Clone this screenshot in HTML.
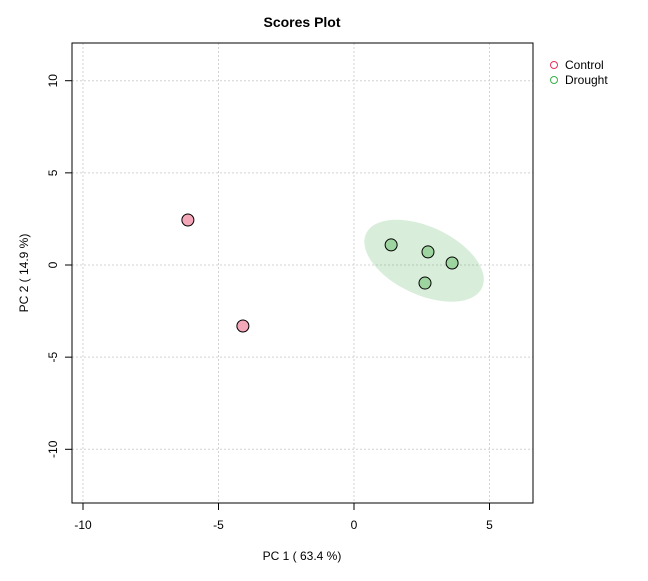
<!DOCTYPE html>
<html><head><meta charset="utf-8"><style>
body{margin:0;background:#fff;font-family:"Liberation Sans",sans-serif;}
svg text{font-family:"Liberation Sans",sans-serif;}
</style></head><body>
<svg id="chart" width="648" height="576" xmlns="http://www.w3.org/2000/svg">
<text x="302" y="27" text-anchor="middle" font-size="14" font-weight="bold">Scores Plot</text>
<g id="grid"></g>
<g id="ellipses"></g>
<g id="points"></g>
<rect x="72" y="43" width="461" height="460" fill="none" stroke="#000"/>
<g id="xaxis"></g>
<g id="yaxis"></g>
<text x="302" y="560" text-anchor="middle" font-size="12">PC 1 ( 63.4 %)</text>
<text transform="translate(28,273) rotate(-90)" text-anchor="middle" font-size="12">PC 2 ( 14.9 %)</text>
<g>
<g><circle cx="554" cy="65" r="3.5" fill="none" stroke="#E8305C"/><text x="565" y="69" font-size="12">Control</text></g>
<g><circle cx="554" cy="80" r="3.5" fill="none" stroke="#38B04A"/><text x="565" y="84" font-size="12">Drought</text></g>
</g>
</svg>
<script>
const xTicks=[-10,-5,0,5];
const yTicks=[-10,-5,0,5,10];
const controlX=[-6.13,-4.10];
const controlY=[2.44,-3.31];
const droughtX=[1.37,2.73,3.62,2.62];
const droughtY=[1.09,0.71,0.11,-0.98];
const NS="http://www.w3.org/2000/svg";
const sx=v=>354+v*27.1;
const sy=v=>265-v*18.43;
function mk(tag,attrs,parent){const e=document.createElementNS(NS,tag);for(const k in attrs)e.setAttribute(k,attrs[k]);parent.appendChild(e);return e;}
const grid=document.getElementById('grid'),xa=document.getElementById('xaxis'),ya=document.getElementById('yaxis');
xTicks.forEach(t=>{
 const l=mk('line',{x1:sx(t),x2:sx(t),y1:43,y2:503,stroke:'#d3d3d3','stroke-dasharray':'2,2'},grid);
 
 const k=mk('line',{x1:sx(t),x2:sx(t),y1:503,y2:510,stroke:'#000'},xa);
 
 const tx=mk('text',{x:sx(t),y:529,'text-anchor':'middle','font-size':12},xa);tx.textContent=t;
 
});
yTicks.forEach(t=>{
 const l=mk('line',{y1:sy(t),y2:sy(t),x1:72,x2:533,stroke:'#d3d3d3','stroke-dasharray':'2,2'},grid);
 
 const k=mk('line',{y1:sy(t),y2:sy(t),x1:65,x2:72,stroke:'#000'},ya);
 
 const tx=mk('text',{transform:`translate(57,${sy(t)}) rotate(-90)`,'text-anchor':'middle','font-size':12},ya);tx.textContent=t;
 
});
const mx=droughtX.reduce((a,b)=>a+b)/droughtX.length,my=droughtY.reduce((a,b)=>a+b)/droughtY.length;
const ecx=sx(mx),ecy=sy(my);
const el=mk('ellipse',{cx:ecx,cy:ecy,rx:64,ry:34,fill:'#3FA34D','fill-opacity':0.2,transform:`rotate(25 ${ecx} ${ecy})`},document.getElementById('ellipses'));

const pts=document.getElementById('points');
controlX.forEach((x,i)=>{const c=mk('circle',{cx:sx(x),cy:sy(controlY[i]),r:6,fill:'#F4A7B9',stroke:'#000'},pts);
 });
droughtX.forEach((x,i)=>{const c=mk('circle',{cx:sx(x),cy:sy(droughtY[i]),r:6,fill:'#9ED49F',stroke:'#000'},pts);
 });
</script>
</body></html>
